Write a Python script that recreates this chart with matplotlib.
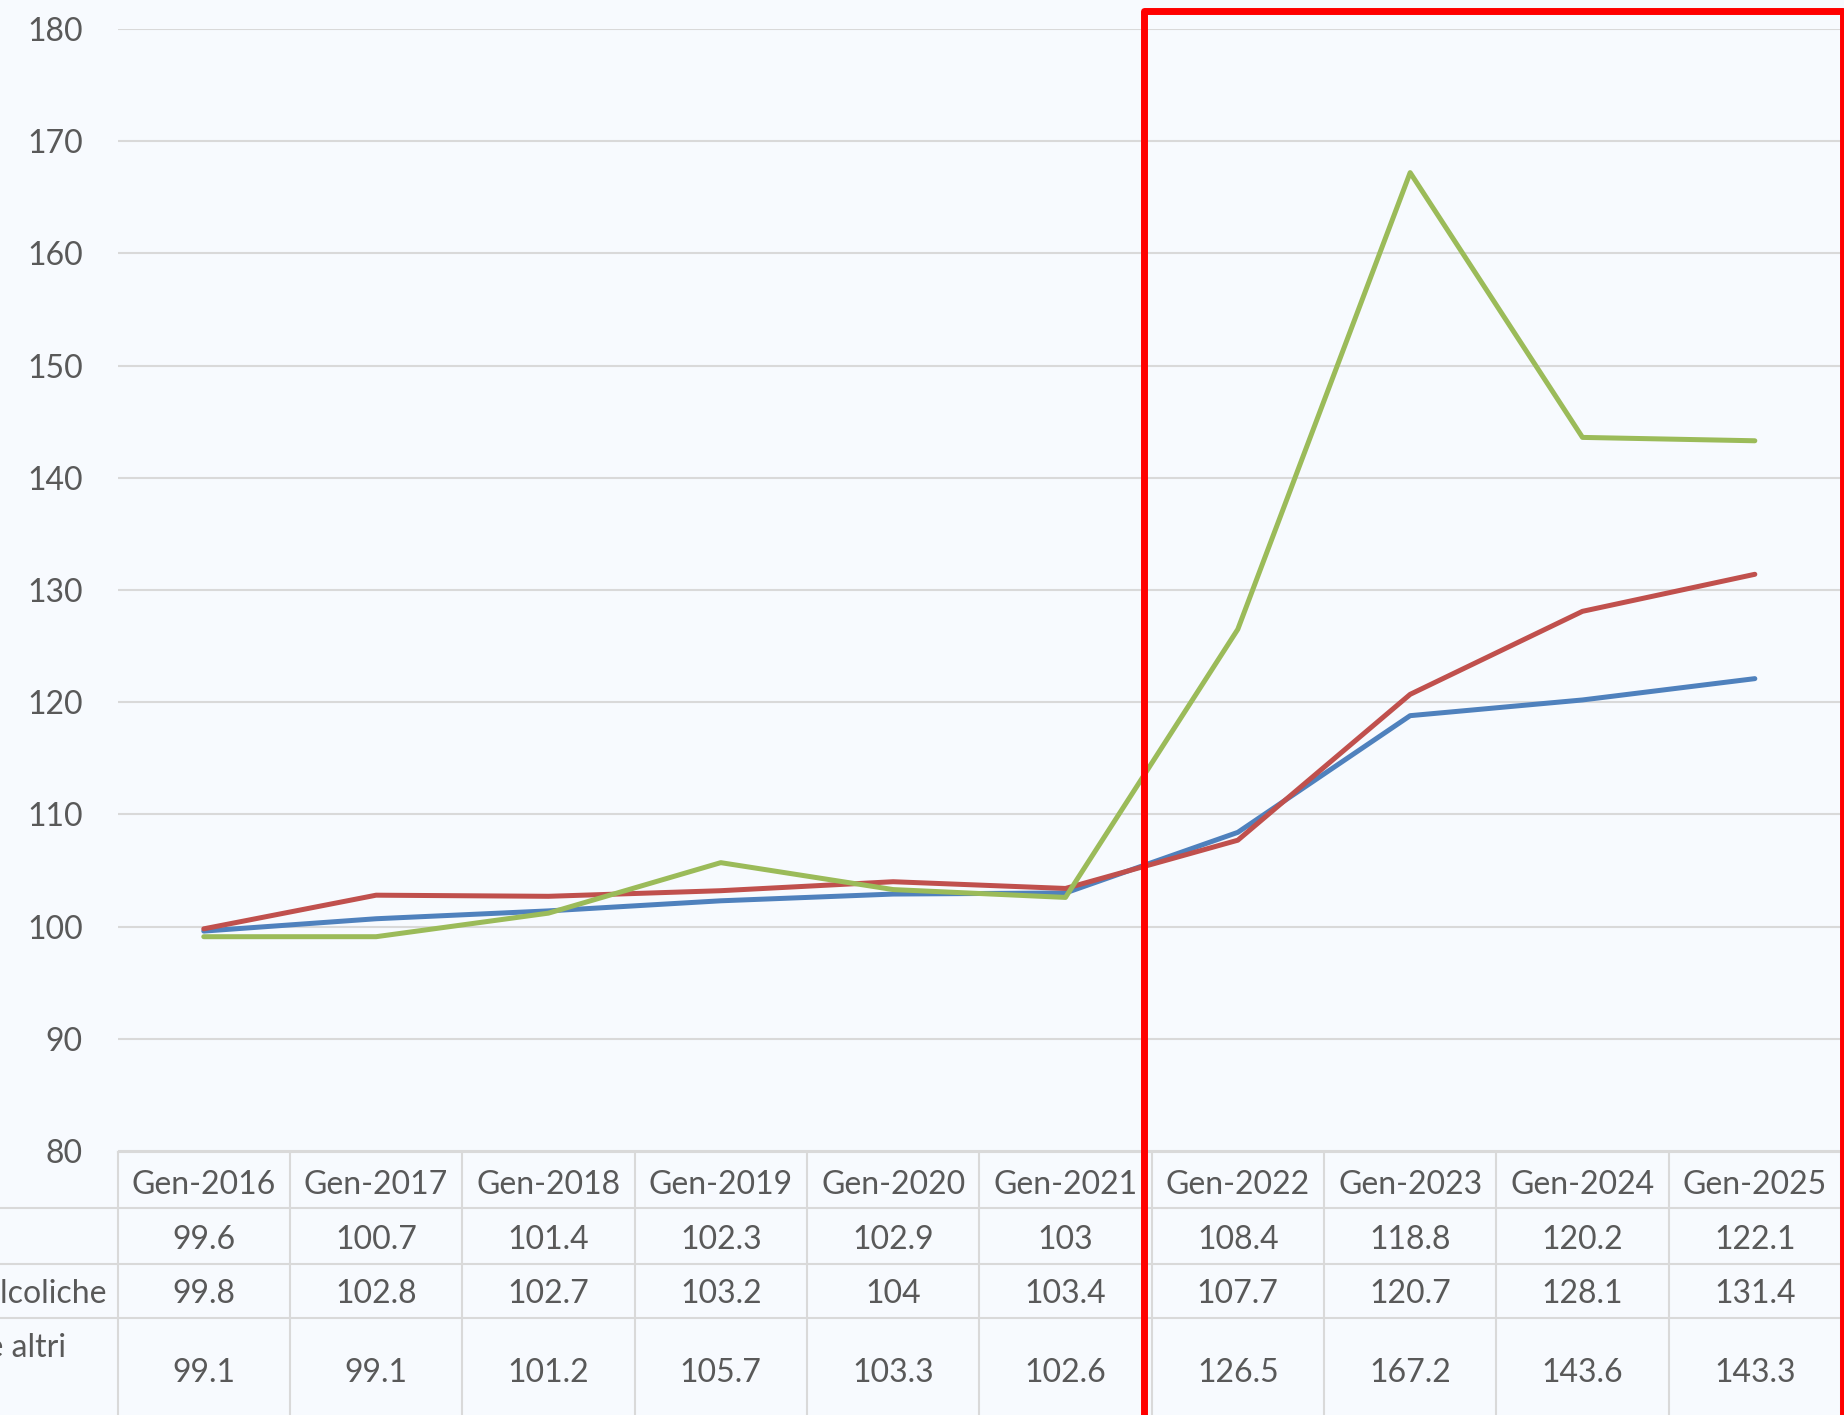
import matplotlib
matplotlib.use("Agg")
import matplotlib.pyplot as plt
from matplotlib.patches import Rectangle
from matplotlib.transforms import blended_transform_factory

plt.rcParams['font.family'] = ['Lato', 'DejaVu Sans']

# data
months = ['Gen-2016', 'Gen-2017', 'Gen-2018', 'Gen-2019', 'Gen-2020',
          'Gen-2021', 'Gen-2022', 'Gen-2023', 'Gen-2024', 'Gen-2025']
generale = [99.6, 100.7, 101.4, 102.3, 102.9, 103, 108.4, 118.8, 120.2, 122.1]
alimentari = [99.8, 102.8, 102.7, 103.2, 104, 103.4, 107.7, 120.7, 128.1, 131.4]
energetici = [99.1, 99.1, 101.2, 105.7, 103.3, 102.6, 126.5, 167.2, 143.6, 143.3]
series_names = ['Indice generale',
                'Prodotti alimentari e bevande analcoliche',
                'Abitazione, acqua, elettricità, gas e altri\ncombustibili']
colors = ['#4F81BD', '#C0504D', '#9BBB59']

W, H = 1844, 1415
bg = '#F7FAFE'
txt = '#595959'
grid = '#D9D9D9'

fig = plt.figure(figsize=(W / 100, H / 100), dpi=100, facecolor=bg)
left_px, right_px, top_px, bot_px = 117.6, 1841, 29, 1151
ax = fig.add_axes([left_px / W, 1 - bot_px / H, (right_px - left_px) / W, (bot_px - top_px) / H])
ax.set_facecolor(bg)

x = list(range(len(months)))
for vals, c in zip([generale, alimentari, energetici], colors):
    ax.plot(x, vals, color=c, lw=3.6, solid_capstyle='round', solid_joinstyle='round', zorder=3)

ax.set_xlim(-0.5, len(months) - 0.5)
ax.set_ylim(80, 180)
ax.set_yticks(range(80, 181, 10))
ax.set_xticks([])
ax.yaxis.grid(True, color=grid, lw=1.5)
ax.set_axisbelow(True)
for s in ax.spines.values():
    s.set_visible(False)
ax.tick_params(axis='y', length=0, pad=25, labelsize=23, labelcolor=txt)

# data table below the plot
ah = bot_px - top_px
def ay(py):
    return (bot_px - py) / ah

tr = blended_transform_factory(ax.transData, ax.transAxes)
row_lines = [1152, 1208, 1264, 1318]
bottom = 1440
label_left = -left_px / (right_px - left_px)

for i, yl in enumerate(row_lines):
    x0 = 0 if i == 0 else label_left
    ax.plot([x0, 1], [ay(yl), ay(yl)], transform=ax.transAxes, color=grid, lw=1.5, clip_on=False)
for k in range(len(months) + 1):
    ax.plot([k - 0.5, k - 0.5], [ay(1152), ay(bottom)], transform=tr, color=grid, lw=1.5, clip_on=False)

for i, m in enumerate(months):
    ax.text(i, ay(1185), m, transform=tr, ha='center', va='center', fontsize=23, color=txt, clip_on=False)

row_centers = [1240, 1294, 1373]
for vals, yc in zip([generale, alimentari, energetici], row_centers):
    for i, v in enumerate(vals):
        ax.text(i, ay(yc), f'{v:g}', transform=tr, ha='center', va='center', fontsize=23, color=txt, clip_on=False)

# row labels (mostly cut off at the left edge, as in the source screenshot)
px_per_cat = (right_px - left_px) / len(months)
label_right = [-300, 107, 66]
for name, yc, xr in zip(series_names, row_centers, label_right):
    xd = -0.5 - (left_px - xr) / px_per_cat
    ax.text(xd, ay(yc), name, transform=tr, ha='right', va='center', multialignment='center',
            fontsize=23, color=txt, clip_on=False, linespacing=1.85)

# red highlight box
rect = Rectangle((1144 / W, -0.05), (1843 - 1144) / W, 1.05 - 11 / H, transform=fig.transFigure,
                 fill=False, edgecolor='#FF0000', lw=5, joinstyle='round', zorder=10)
fig.patches.append(rect)

fig.savefig('out.png', dpi=100, facecolor=bg)
